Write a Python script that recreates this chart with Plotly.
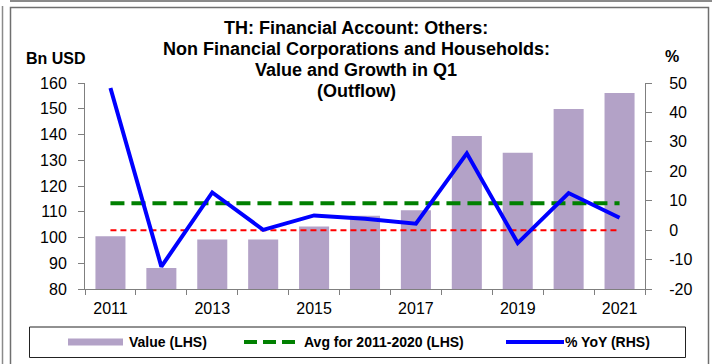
import plotly.graph_objects as go

# ---- data ----
years = [2011, 2012, 2013, 2014, 2015, 2016, 2017, 2018, 2019, 2020, 2021]
value_bn_usd = [100.5, 88.2, 99.2, 99.2, 104.3, 108.4, 110.6, 139.4, 132.9, 149.9, 156.1]
yoy_pct = [48.3, -12.4, 12.8, 0.1, 5.0, 3.9, 2.2, 26.1, -4.4, 12.6, 4.2]
avg_period = (2011, 2020)
year_labels = [2011, 2013, 2015, 2017, 2019, 2021]
left_ticks = [80, 90, 100, 110, 120, 130, 140, 150, 160]
right_ticks = [-20, -10, 0, 10, 20, 30, 40, 50]

title_lines = [
    "TH: Financial Account: Others:",
    "Non Financial Corporations and Households:",
    "Value and Growth in Q1",
    "(Outflow)",
]

# average of the value series over the reference period
period_vals = [v for y, v in zip(years, value_bn_usd) if avg_period[0] <= y <= avg_period[1]]
avg_value = sum(period_vals) / len(period_vals)

# ---- layout geometry (pixels) ----
W, H = 712, 364
ML, MR, MT, MB = 85, 67, 83, 75
PW, PH = W - ML - MR, H - MT - MB


def px_x(px):
    return (px - ML) / PW


def px_y(py):
    return (H - MB - py) / PH


FONT = "Liberation Sans, Arial, sans-serif"
AXIS_GREY = "#7f7f7f"
BAR_COLOR = "#b3a2c7"
GREEN = "#008000"
BLUE = "#0000ff"
RED = "#ff0000"

fig = go.Figure()

fig.add_trace(go.Bar(
    x=years, y=value_bn_usd, name="Value (LHS)",
    marker=dict(color=BAR_COLOR, line=dict(width=0)),
    width=0.59, yaxis="y", showlegend=False,
))
fig.add_trace(go.Scatter(
    x=years, y=[0] * len(years), mode="lines", yaxis="y2",
    line=dict(color=RED, width=2, dash="6px,4px"), showlegend=False, hoverinfo="skip",
))
fig.add_trace(go.Scatter(
    x=years, y=[avg_value] * len(years), mode="lines",
    name=f"Avg for {avg_period[0]}-{avg_period[1]} (LHS)", yaxis="y",
    line=dict(color=GREEN, width=4, dash="14px,7px"), showlegend=False,
))
fig.add_trace(go.Scatter(
    x=years, y=yoy_pct, mode="lines", name="% YoY (RHS)", yaxis="y2",
    line=dict(color=BLUE, width=4), showlegend=False,
))

annotations = []
# title, one annotation per line
title_y = [28.0, 49.0, 70.0, 90.5]
for text, ty in zip(title_lines, title_y):
    annotations.append(dict(
        text=f"<b>{text}</b>", xref="paper", yref="paper",
        x=px_x(356), y=px_y(ty), xanchor="center", yanchor="middle",
        showarrow=False, font=dict(family=FONT, size=18, color="black"),
    ))
# axis unit labels
annotations.append(dict(
    text="<b>Bn USD</b>", xref="paper", yref="paper", x=px_x(56), y=px_y(58),
    xanchor="center", yanchor="middle", showarrow=False,
    font=dict(family=FONT, size=16, color="black"),
))
annotations.append(dict(
    text="<b>%</b>", xref="paper", yref="paper", x=px_x(672), y=px_y(56),
    xanchor="center", yanchor="middle", showarrow=False,
    font=dict(family=FONT, size=16, color="black"),
))

# legend
LEG_Y = 342
legend_items = [
    ("Value (LHS)", 127),
    (f"Avg for {avg_period[0]}-{avg_period[1]} (LHS)", 302),
    ("% YoY (RHS)", 563),
]
for text, lx in legend_items:
    annotations.append(dict(
        text=f"<b>{text}</b>", xref="paper", yref="paper", x=px_x(lx), y=px_y(LEG_Y),
        xanchor="left", yanchor="middle", showarrow=False,
        font=dict(family=FONT, size=14, color="black"),
    ))

shapes = [
    # outer chart frame
    dict(type="rect", xref="paper", yref="paper", x0=px_x(10.5), x1=px_x(708.5),
         y0=px_y(7.5), y1=px_y(370), line=dict(color="#6f6f6f", width=1.5),
         fillcolor="rgba(0,0,0,0)", layer="below"),
    dict(type="line", xref="paper", yref="paper", x0=px_x(2.5), x1=px_x(2.5),
         y0=px_y(6), y1=px_y(370), line=dict(color="#8a8a8a", width=1.5)),
    dict(type="line", xref="paper", yref="paper", x0=px_x(10), x1=px_x(720),
         y0=px_y(1), y1=px_y(1), line=dict(color="#8a8a8a", width=2)),
    # legend box
    dict(type="rect", xref="paper", yref="paper", x0=px_x(29.5), x1=px_x(685.5),
         y0=px_y(327), y1=px_y(357.5), line=dict(color="#222222", width=1),
         fillcolor="white"),
    # legend swatches
    dict(type="rect", xref="paper", yref="paper", x0=px_x(68), x1=px_x(123),
         y0=px_y(338.5), y1=px_y(345.5), line=dict(width=0), fillcolor=BAR_COLOR),
    dict(type="line", xref="paper", yref="paper", x0=px_x(244), x1=px_x(300),
         y0=px_y(LEG_Y), y1=px_y(LEG_Y), line=dict(color=GREEN, width=4, dash="13px,6px")),
    dict(type="line", xref="paper", yref="paper", x0=px_x(506), x1=px_x(564),
         y0=px_y(LEG_Y), y1=px_y(LEG_Y), line=dict(color=BLUE, width=4)),
]

boundaries = [y - 0.5 for y in years] + [years[-1] + 0.5]

fig.update_layout(
    width=W, height=H,
    margin=dict(l=ML, r=MR, t=MT, b=MB, pad=0),
    paper_bgcolor="white", plot_bgcolor="white",
    font=dict(family=FONT, size=16, color="black"),
    showlegend=False,
    xaxis=dict(
        range=[years[0] - 0.5, years[-1] + 0.5],
        tickmode="array", tickvals=year_labels, ticktext=[str(y) for y in year_labels],
        ticks="", showline=True, linecolor=AXIS_GREY, linewidth=1,
        showgrid=False, zeroline=False, ticklabelstandoff=5,
        tickfont=dict(family=FONT, size=16, color="black"),
        minor=dict(tickmode="array", tickvals=boundaries, ticks="outside",
                   ticklen=5, tickcolor=AXIS_GREY, tickwidth=1, showgrid=False),
    ),
    yaxis=dict(
        range=[80, 160], tickmode="array", tickvals=left_ticks,
        ticktext=[str(t) for t in left_ticks],
        ticks="outside", ticklen=6, tickcolor=AXIS_GREY, tickwidth=1,
        showline=True, linecolor=AXIS_GREY, linewidth=1,
        showgrid=False, zeroline=False, ticklabelstandoff=8,
        tickfont=dict(family=FONT, size=16, color="black"),
    ),
    yaxis2=dict(
        range=[-20, 50], tickmode="array", tickvals=right_ticks,
        ticktext=[str(t) for t in right_ticks],
        overlaying="y", side="right",
        ticks="outside", ticklen=6, tickcolor=AXIS_GREY, tickwidth=1,
        showline=True, linecolor=AXIS_GREY, linewidth=1,
        showgrid=False, zeroline=False, ticklabelstandoff=14,
        tickfont=dict(family=FONT, size=16, color="black"),
    ),
    annotations=annotations,
    shapes=shapes,
)

fig.write_html("out.html")
